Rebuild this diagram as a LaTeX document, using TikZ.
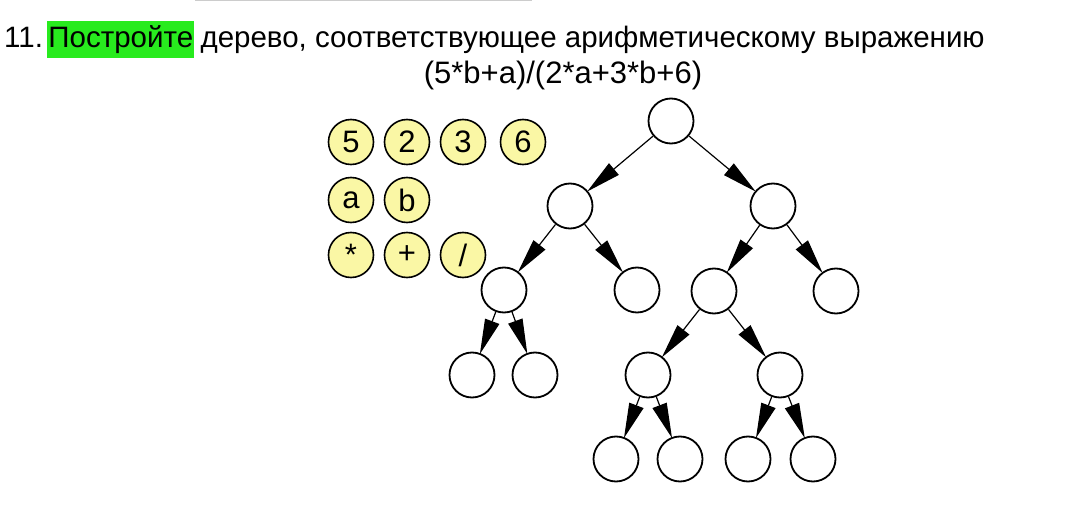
\documentclass[tikz,border=0pt]{standalone}
\usepackage{fontspec}
\setmainfont{Liberation Sans}
\usetikzlibrary{arrows.meta,positioning}
\definecolor{keyyellow}{RGB}{250,247,165}
\definecolor{hlgreen}{RGB}{40,235,30}
\begin{document}
\begin{tikzpicture}
  [x=1pt,y=-1pt,
   every node/.style={font=\fontsize{29.5}{33}\selectfont},
   tnode/.style={circle,draw,line width=1.8pt,minimum size=45pt,inner sep=0},
   knode/.style={tnode,fill=keyyellow,line width=1.6pt,font=\fontsize{31}{33}\selectfont},
   arr/.style={line width=1.2pt,-{Triangle[length=35pt,width=15pt]},shorten >=-1pt}]
  \useasboundingbox (0,0) rectangle (1080,505);
  \draw[gray!40,line width=2pt] (195,0) -- (532,0);
  % task text
  \node[anchor=base west,inner sep=0] (num) at (4,48) {11.};
  \node[base right=4pt of num,fill=hlgreen,inner xsep=1pt,inner ysep=3pt,
        text height=24pt,text depth=7pt] (hl) {Постройте};
  \node[base right=6pt of hl,inner xsep=0] (task) {дерево, соответствующее арифметическому выражению};
  \node[font=\fontsize{31}{33}\selectfont] (expr) at (563,75) {(5*b+a)/(2*a+3*b+6)};
  % given pieces
  \node[knode] (k5) at (351,142) {5};
  \node[knode] (k2) at (407,142) {2};
  \node[knode] (k3) at (463,142) {3};
  \node[knode] (k6) at (523,142) {6};
  \node[knode] (ka) at (351,200) {a};
  \node[knode] (kb) at (407,200) {b};
  \node[knode] (kmul) at (351,255) {*};
  \node[knode] (kadd) at (407,255) {+};
  \node[knode] (kdiv) at (463,255) {/};
  % empty tree
  \node[tnode] (t0) at (671,121) {};
  \node[tnode] (t1) at (570,206) {};
  \node[tnode] (t2) at (773,206) {};
  \node[tnode] (t3) at (504,290) {};
  \node[tnode] (t4) at (637,290) {};
  \node[tnode] (t5) at (714,291) {};
  \node[tnode] (t6) at (836,291) {};
  \node[tnode] (t7) at (472,375) {};
  \node[tnode] (t8) at (535,375) {};
  \node[tnode] (t9) at (648,375) {};
  \node[tnode] (t10) at (780,375) {};
  \node[tnode] (t11) at (616,459) {};
  \node[tnode] (t12) at (680,459) {};
  \node[tnode] (t13) at (748,459) {};
  \node[tnode] (t14) at (813,459) {};
  \foreach \from/\to in {t0/t1,t0/t2,t1/t3,t1/t4,t2/t5,t2/t6,t3/t7,t3/t8,
  t5/t9,t5/t10,t9/t11,t9/t12,t10/t13,t10/t14}
    \draw[arr] (\from) -- (\to);
\end{tikzpicture}
\end{document}
